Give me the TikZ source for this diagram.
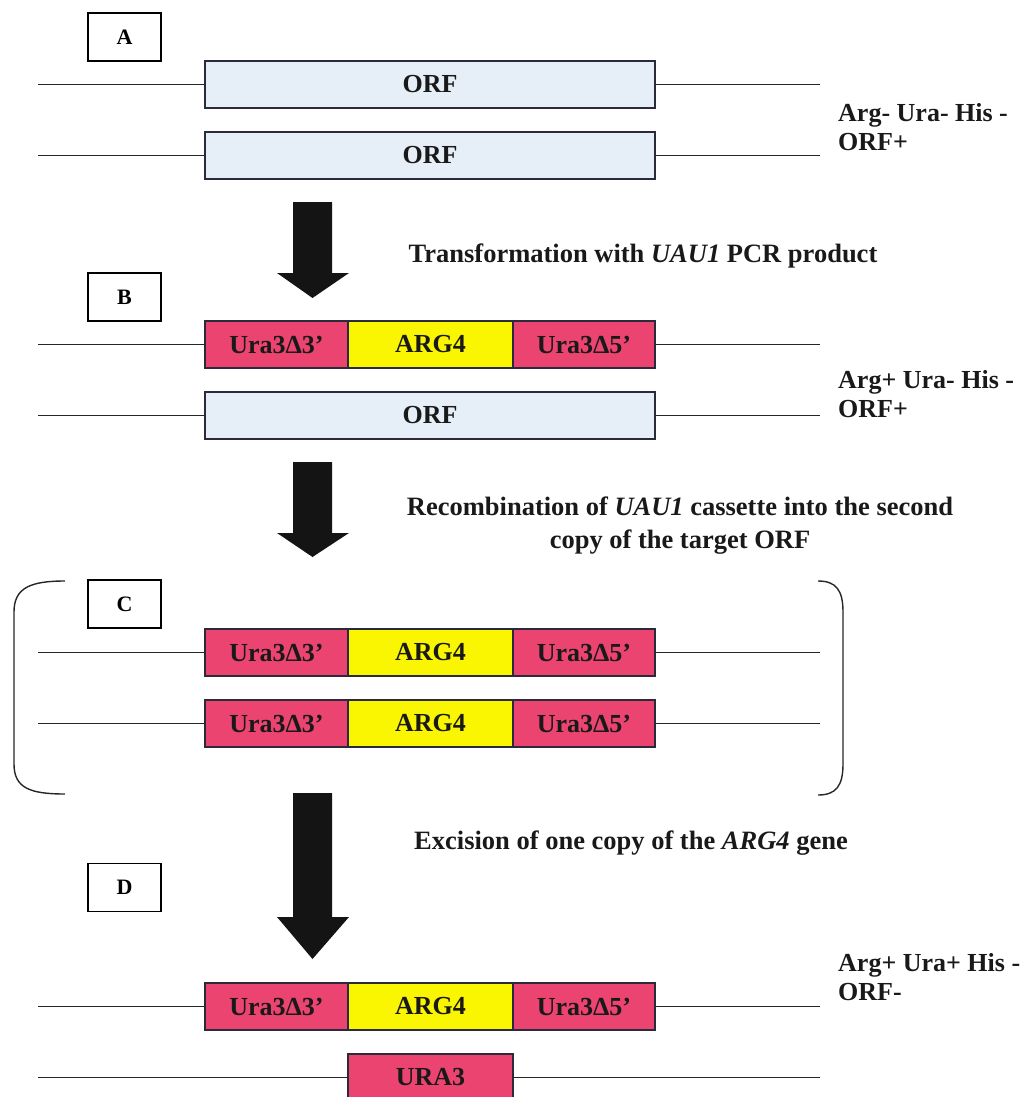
\documentclass[tikz,border=0pt]{standalone}
\usepackage{fontspec}
\setmainfont{Liberation Serif}
\definecolor{pinkc}{HTML}{EB4470}
\definecolor{yelc}{HTML}{FAF500}
\definecolor{orfc}{HTML}{E6EEF7}
\definecolor{edgec}{HTML}{2A2A3A}
\tikzset{
  gene/.style={draw=edgec, line width=1.3pt, inner sep=0pt, outer sep=0pt, minimum height=47pt,
    font=\fontsize{26}{26}\selectfont\bfseries, text=black!90},
  orfbox/.style={gene, fill=orfc, minimum width=450pt},
  urabox/.style={gene, fill=pinkc, minimum width=143pt},
  argbox/.style={gene, fill=yelc, minimum width=165pt},
  ura5box/.style={gene, fill=pinkc, minimum width=142pt},
  lbl/.style={draw=black, line width=1.4pt, minimum width=73pt, minimum height=48pt,
    inner sep=0pt, outer sep=0pt, font=\fontsize{22}{22}\selectfont\bfseries},
  dna/.style={line width=1.2pt, draw=black!85},
  status/.style={anchor=west, align=left, inner sep=0pt,
    font=\fontsize{26}{29}\selectfont\bfseries, text=black!90},
  step text/.style={align=center, inner sep=0pt,
    font=\fontsize{26.5}{33}\selectfont\bfseries, text=black!90},
  bigarrow/.style={fill=black!92},
  brack/.style={line width=1.4pt, draw=black!85}
}
\begin{document}
\begin{tikzpicture}[x=1pt,y=-1pt]
\useasboundingbox (0,0) rectangle (1028,1097);

% ---------------- A ----------------
\node[lbl] (labA) at (124.5,37) {A};
\node[orfbox] (a1) at (430,84.5) {ORF};
\node[orfbox] (a2) at (430,155.5) {ORF};
\coordinate (a1l) at (38,84.5); \coordinate (a1r) at (820,84.5);
\coordinate (a2l) at (38,155.5); \coordinate (a2r) at (820,155.5);
\draw[dna] (a1l) -- (a1.west); \draw[dna] (a1.east) -- (a1r);
\draw[dna] (a2l) -- (a2.west); \draw[dna] (a2.east) -- (a2r);
\node[status] (sA) at (838,127) {Arg- Ura- His -\\ORF+};

% arrow 1
\fill[bigarrow] (293,202) -- (332,202) -- (332,273) -- (349,273) -- (312.5,298) -- (277,273) -- (293,273) -- cycle;
\node[step text] (t1) at (643,256) {Transformation with \textit{UAU1} PCR product};

% ---------------- B ----------------
\node[lbl] (labB) at (124.5,297) {B};
\node[urabox] (b1a) at (276.5,344.5) {Ura3Δ3’};
\node[argbox, anchor=west] (b1b) at (b1a.east) {ARG4};
\node[ura5box, anchor=west] (b1c) at (b1b.east) {Ura3Δ5’};
\node[orfbox] (b2) at (430,415.5) {ORF};
\coordinate (b1l) at (38,344.5); \coordinate (b1r) at (820,344.5);
\coordinate (b2l) at (38,415.5); \coordinate (b2r) at (820,415.5);
\draw[dna] (b1l) -- (b1a.west); \draw[dna] (b1c.east) -- (b1r);
\draw[dna] (b2l) -- (b2.west); \draw[dna] (b2.east) -- (b2r);
\node[status] (sB) at (838,394) {Arg+ Ura- His -\\ORF+};

% arrow 2
\fill[bigarrow] (293,462) -- (332,462) -- (332,533) -- (349,533) -- (312.5,557) -- (277,533) -- (293,533) -- cycle;
\node[step text] (t2) at (680,526) {Recombination of \textit{UAU1} cassette into the second\\copy of the target ORF};

% ---------------- C ----------------
\draw[brack] (65,581) .. controls (30,581) and (14,588) .. (14,612) -- (14,764) .. controls (14,788) and (30,794) .. (65,794);
\draw[brack] (818,581) .. controls (836,581) and (843,590) .. (843,612) -- (843,764) .. controls (843,786) and (836,795) .. (818,795);
\node[lbl] (labC) at (124.5,604) {C};
\node[urabox] (c1a) at (276.5,652.5) {Ura3Δ3’};
\node[argbox, anchor=west] (c1b) at (c1a.east) {ARG4};
\node[ura5box, anchor=west] (c1c) at (c1b.east) {Ura3Δ5’};
\node[urabox] (c2a) at (276.5,723.5) {Ura3Δ3’};
\node[argbox, anchor=west] (c2b) at (c2a.east) {ARG4};
\node[ura5box, anchor=west] (c2c) at (c2b.east) {Ura3Δ5’};
\coordinate (c1l) at (38,652.5); \coordinate (c1r) at (820,652.5);
\coordinate (c2l) at (38,723.5); \coordinate (c2r) at (820,723.5);
\draw[dna] (c1l) -- (c1a.west); \draw[dna] (c1c.east) -- (c1r);
\draw[dna] (c2l) -- (c2a.west); \draw[dna] (c2c.east) -- (c2r);

% arrow 3
\fill[bigarrow] (293,793) -- (332,793) -- (332,917) -- (349,917) -- (312.5,959) -- (277,917) -- (293,917) -- cycle;
\node[step text] (t3) at (631,843) {Excision of one copy of the \textit{ARG4} gene};

% ---------------- D ----------------
\node[lbl] (labD) at (124.5,887.5) {D};
\node[urabox] (d1a) at (276.5,1006.5) {Ura3Δ3’};
\node[argbox, anchor=west] (d1b) at (d1a.east) {ARG4};
\node[ura5box, anchor=west] (d1c) at (d1b.east) {Ura3Δ5’};
\node[gene, fill=pinkc, minimum width=165pt, anchor=north] (d2) at (430.5,1054) {URA3};
\coordinate (d1l) at (38,1006.5); \coordinate (d1r) at (820,1006.5);
\coordinate (d2l) at (38,1077.5); \coordinate (d2r) at (820,1077.5);
\draw[dna] (d1l) -- (d1a.west); \draw[dna] (d1c.east) -- (d1r);
\draw[dna] (d2l) -- (d2.west); \draw[dna] (d2.east) -- (d2r);
\node[status] (sD) at (838,977) {Arg+ Ura+ His -\\ORF-};
\end{tikzpicture}
\end{document}
